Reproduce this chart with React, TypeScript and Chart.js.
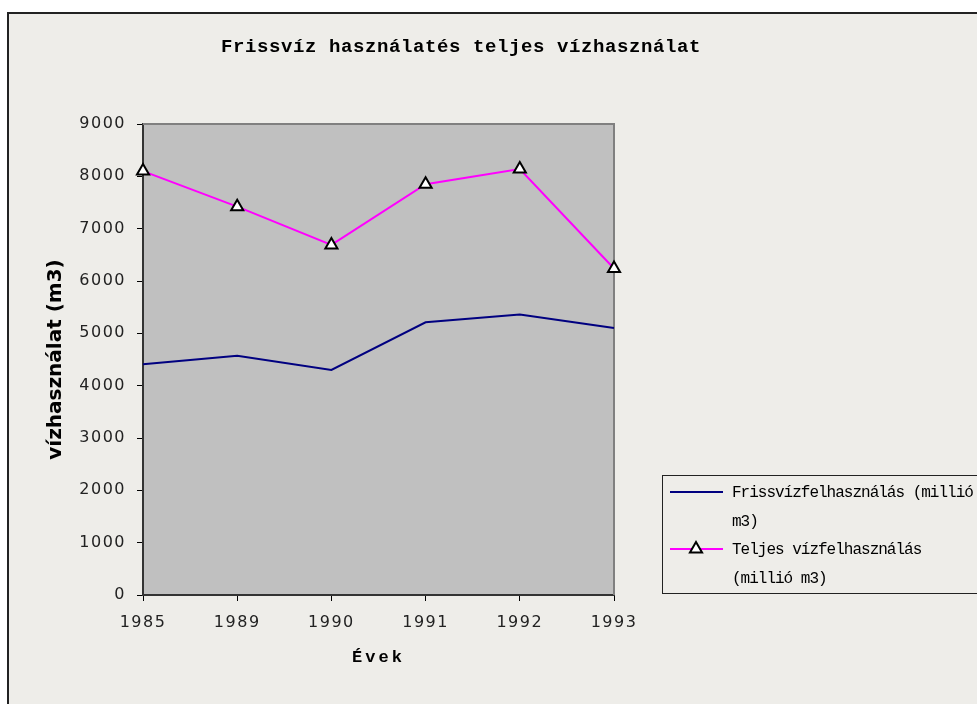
import React, { useEffect, useRef } from "react";
import { Chart, registerables } from "chart.js";

Chart.register(...registerables);

const years = ["1985", "1989", "1990", "1991", "1992", "1993"];
const freshWater = [4410, 4570, 4300, 5210, 5360, 5100];
const totalWater = [8100, 7420, 6690, 7850, 8140, 6240];
const seriesLabels = ["Frissvízfelhasználás (millió m3)", "Teljes vízfelhasználás (millió m3)"];
const titleText = "Frissvíz használatés teljes vízhasználat";
const xTitle = "Évek";
const yTitle = "vízhasználat (m3)";
const yMin = 0;
const yMax = 9000;
const yStep = 1000;

const W = 977;
const H = 704;

function drawTriangle(ctx: CanvasRenderingContext2D, x: number, y: number, r: number) {
  let rad = 0;
  const t = (2 * Math.PI) / 3;
  ctx.beginPath();
  ctx.moveTo(x + Math.sin(rad) * r, y - Math.cos(rad) * r);
  rad += t;
  ctx.lineTo(x + Math.sin(rad) * r, y - Math.cos(rad) * r);
  rad += t;
  ctx.lineTo(x + Math.sin(rad) * r, y - Math.cos(rad) * r);
  ctx.closePath();
  ctx.fillStyle = "#ffffff";
  ctx.fill();
  ctx.lineWidth = 2;
  ctx.strokeStyle = "#000000";
  ctx.stroke();
}

function wrap(ctx: CanvasRenderingContext2D, text: string, maxW: number): string[] {
  const words = text.split(" ");
  const lines: string[] = [];
  let cur = "";
  for (const w of words) {
    const test = cur ? cur + " " + w : w;
    if (ctx.measureText(test).width > maxW && cur) {
      lines.push(cur);
      cur = w;
    } else {
      cur = test;
    }
  }
  if (cur) lines.push(cur);
  return lines;
}

const framePlugin = {
  id: "framePlugin",
  beforeDraw(chart: any) {
    const ctx = chart.ctx as CanvasRenderingContext2D;
    const a = chart.chartArea;
    ctx.save();
    ctx.fillStyle = "#ffffff";
    ctx.fillRect(0, 0, W, H);
    ctx.fillStyle = "#eeede9";
    ctx.fillRect(7, 12, W, H);
    ctx.fillStyle = "#222222";
    ctx.fillRect(7, 12, 2, H);
    ctx.fillRect(7, 12, W, 2);
    ctx.fillStyle = "#c0c0c0";
    ctx.fillRect(a.left, a.top, a.right - a.left, a.bottom - a.top);
    ctx.restore();
    (ctx as any).letterSpacing = "1.5px";
  },
  beforeDatasetsDraw(chart: any) {
    const ctx = chart.ctx as CanvasRenderingContext2D;
    const a = chart.chartArea;
    ctx.save();
    ctx.strokeStyle = "#808080";
    ctx.lineWidth = 2;
    ctx.beginPath();
    ctx.moveTo(a.left, a.top);
    ctx.lineTo(a.right, a.top);
    ctx.lineTo(a.right, a.bottom);
    ctx.stroke();
    ctx.restore();
  },
  afterDraw(chart: any) {
    const ctx = chart.ctx as CanvasRenderingContext2D;
    const a = chart.chartArea;
    ctx.save();
    ctx.fillStyle = "#000000";
    // title
    (ctx as any).letterSpacing = "0.6px";
    ctx.font = "bold 19px 'Liberation Mono', monospace";
    ctx.textAlign = "center";
    ctx.textBaseline = "alphabetic";
    ctx.fillText(titleText, 461, 52);
    // x title
    (ctx as any).letterSpacing = "3px";
    ctx.font = "bold 17px 'Liberation Mono', monospace";
    ctx.fillText(xTitle, (a.left + a.right) / 2, 662);
    // y title
    (ctx as any).letterSpacing = "0px";
    ctx.save();
    ctx.translate(56, (a.top + a.bottom) / 2);
    ctx.rotate(-Math.PI / 2);
    ctx.font = "bold 20px 'DejaVu Sans', sans-serif";
    ctx.textBaseline = "middle";
    ctx.fillText(yTitle, 0, 0);
    ctx.restore();

    // legend
    ctx.strokeStyle = "#222222";
    ctx.lineWidth = 1;
    ctx.strokeRect(662.5, 475.5, 400, 118);
    ctx.font = "16px 'Liberation Mono', monospace";
    (ctx as any).letterSpacing = "-1px";
    ctx.textAlign = "left";
    ctx.textBaseline = "alphabetic";
    const ds = chart.data.datasets;
    let baseY = 497;
    const lineH = 28.5;
    ds.forEach((d: any) => {
      const lines = wrap(ctx, d.label, 244);
      const sampleY = baseY - 5;
      ctx.save();
      ctx.strokeStyle = d.borderColor;
      ctx.lineWidth = 2;
      ctx.beginPath();
      ctx.moveTo(670, sampleY);
      ctx.lineTo(723, sampleY);
      ctx.stroke();
      ctx.restore();
      if (d.pointRadius > 0) drawTriangle(ctx, 696, sampleY, 7);
      ctx.fillStyle = "#000000";
      lines.forEach((ln: string, j: number) => {
        ctx.fillText(ln, 732, baseY + j * lineH);
      });
      baseY += lines.length * lineH;
    });
    ctx.restore();
  },
};

export default function App() {
  const ref = useRef<HTMLCanvasElement | null>(null);
  useEffect(() => {
    if (!ref.current) return;
    const chart = new Chart(ref.current, {
      type: "line",
      data: {
        labels: years,
        datasets: [
          {
            label: seriesLabels[0],
            data: freshWater,
            borderColor: "#000080",
            backgroundColor: "#000080",
            borderWidth: 2,
            pointRadius: 0,
            pointHoverRadius: 0,
            tension: 0,
            clip: false,
          } as any,
          {
            label: seriesLabels[1],
            data: totalWater,
            borderColor: "#ff00ff",
            backgroundColor: "#ff00ff",
            borderWidth: 2,
            pointStyle: "triangle",
            pointRadius: 7,
            pointBorderWidth: 2,
            pointBorderColor: "#000000",
            pointBackgroundColor: "#ffffff",
            tension: 0,
            clip: false,
          } as any,
        ],
      },
      options: {
        responsive: false,
        animation: false,
        events: [],
        layout: { padding: { left: 0, top: 124, right: W - 614, bottom: 0 } },
        plugins: {
          legend: { display: false },
          title: { display: false },
          tooltip: { enabled: false },
        },
        scales: {
          x: {
            type: "category",
            offset: false,
            grid: { display: true, drawOnChartArea: false, drawTicks: true, tickLength: 6, color: "#000000", lineWidth: 1 },
            border: { display: true, color: "#333333", width: 2 },
            ticks: {
              color: "#222222",
              font: { family: "'DejaVu Sans', sans-serif", size: 16 },
              padding: 12,
              maxRotation: 0,
              autoSkip: false,
            },
            afterFit: (s: any) => {
              s.height = H - 595;
            },
          },
          y: {
            min: yMin,
            max: yMax,
            grid: { display: true, drawOnChartArea: false, drawTicks: true, tickLength: 6, color: "#000000", lineWidth: 1 },
            border: { display: true, color: "#333333", width: 2 },
            ticks: {
              stepSize: yStep,
              color: "#222222",
              font: { family: "'DejaVu Sans', sans-serif", size: 16 },
              padding: 11,
              callback: (v: any) => String(v),
            },
            afterFit: (s: any) => {
              s.width = 143;
            },
          },
        },
      },
      plugins: [framePlugin],
    });
    return () => chart.destroy();
  }, []);
  return (
    <canvas
      ref={ref}
      width={W}
      height={H}
      style={{ position: "fixed", left: 0, top: 0, width: W, height: H, display: "block" }}
    />
  );
}
